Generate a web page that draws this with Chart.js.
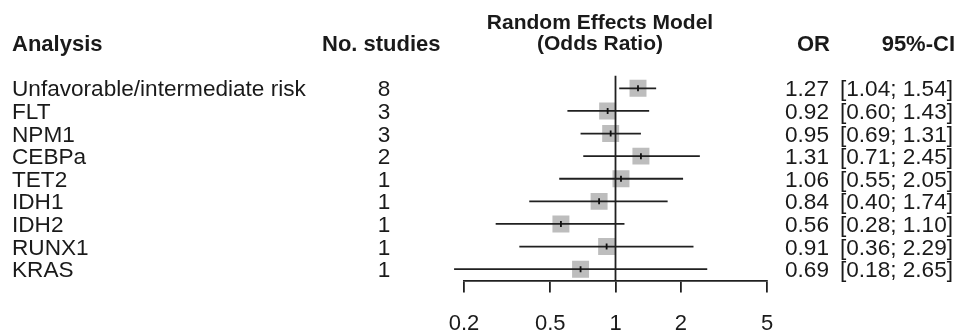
<!DOCTYPE html>
<html>
<head>
<meta charset="utf-8">
<script src="https://cdn.jsdelivr.net/npm/chart.js@4/dist/chart.umd.min.js"></script>
<style>
  body { margin: 0; background: #fff; }
  canvas { display: block; }
</style>
</head>
<body>
<canvas id="forest" width="959" height="333"></canvas>
<script>
// Forest plot data
var analyses = ["Unfavorable/intermediate risk", "FLT", "NPM1", "CEBPa", "TET2", "IDH1", "IDH2", "RUNX1", "KRAS"];
var studies = [8, 3, 3, 2, 1, 1, 1, 1, 1];
var oddsRatio = [1.27, 0.92, 0.95, 1.31, 1.06, 0.84, 0.56, 0.91, 0.69];
var ciLower = [1.04, 0.60, 0.69, 0.71, 0.55, 0.40, 0.28, 0.36, 0.18];
var ciUpper = [1.54, 1.43, 1.31, 2.45, 2.05, 1.74, 1.10, 2.29, 2.65];
var xTicks = [0.2, 0.5, 1, 2, 5];

var FONT = '"Liberation Sans", Arial, Helvetica, sans-serif';
var ink = '#1a1a1a';
var lineCol = '#202020';

var datasets = [];

// center tick inside each square
datasets.push({
    data: oddsRatio.map(function (v, i) { return { x: v, y: i }; }),
    pointStyle: 'line',
    rotation: 90,
    pointRadius: 3,
    borderColor: '#111',
    borderWidth: 1.8,
    order: 0
});

// line of no effect
datasets.push({
    data: [{ x: 1, y: -0.55 }, { x: 1, y: analyses.length - 0.5 }],
    showLine: true,
    pointRadius: 0,
    borderColor: lineCol,
    borderWidth: 1.8,
    clip: false,
    order: 1
});

// confidence intervals
analyses.forEach(function (a, i) {
    datasets.push({
        data: [{ x: ciLower[i], y: i }, { x: ciUpper[i], y: i }],
        showLine: true,
        pointRadius: 0,
        borderColor: lineCol,
        borderWidth: 1.8,
        clip: false,
        order: 2
    });
});

// squares
datasets.push({
    data: oddsRatio.map(function (v, i) { return { x: v, y: i }; }),
    pointStyle: 'rect',
    pointRadius: 12,
    backgroundColor: '#bdbdbd',
    borderWidth: 0,
    order: 3
});

var textColumns = {
    id: 'textColumns',
    afterDraw: function (chart) {
        var ctx = chart.ctx;
        var y = chart.scales.y;
        ctx.save();
        ctx.fillStyle = ink;
        ctx.textBaseline = 'alphabetic';

        // headers
        ctx.font = 'bold 22px ' + FONT;
        ctx.textAlign = 'left';
        ctx.fillText('Analysis', 12, 51);
        ctx.fillText('No. studies', 322, 51);
        ctx.textAlign = 'right';
        ctx.fillText('OR', 830, 51);
        ctx.fillText('95%-CI', 955, 51);
        ctx.font = 'bold 21px ' + FONT;
        ctx.textAlign = 'center';
        ctx.fillText('Random Effects Model', 600, 28.5);
        ctx.fillText('(Odds Ratio)', 600, 50);

        // rows
        ctx.font = '22.6px ' + FONT;
        analyses.forEach(function (a, i) {
            var by = y.getPixelForValue(i) + 8;
            ctx.textAlign = 'left';
            ctx.fillText(a, 12, by);
            ctx.textAlign = 'center';
            ctx.fillText(String(studies[i]), 384, by);
            ctx.textAlign = 'right';
            ctx.fillText(oddsRatio[i].toFixed(2), 829, by);
            ctx.fillText('[' + ciLower[i].toFixed(2) + '; ' + ciUpper[i].toFixed(2) + ']', 953, by);
        });
        ctx.restore();
    }
};

var ctx = document.getElementById('forest').getContext('2d');
var forest = new Chart(ctx, {
    type: 'scatter',
    data: { datasets: datasets },
    options: {
        responsive: false,
        animation: false,
        events: [],
        devicePixelRatio: 1,
        layout: { padding: { left: 464, right: 192, top: 77, bottom: 0 } },
        plugins: { legend: { display: false }, tooltip: { enabled: false } },
        scales: {
            x: {
                type: 'logarithmic',
                min: 0.2,
                max: 5,
                afterBuildTicks: function (scale) {
                    scale.ticks = xTicks.map(function (v) { return { value: v }; });
                },
                afterFit: function (scale) { scale.height = 52.5; },
                grid: {
                    display: true,
                    drawOnChartArea: false,
                    drawTicks: true,
                    tickLength: 12,
                    color: lineCol,
                    lineWidth: 1.8
                },
                border: { display: true, color: lineCol, width: 1.8 },
                ticks: {
                    autoSkip: false,
                    maxRotation: 0,
                    padding: 18,
                    color: ink,
                    font: { family: FONT, size: 22 },
                    callback: function (v) { return String(v); }
                }
            },
            y: {
                type: 'linear',
                reverse: true,
                min: -0.5,
                max: analyses.length - 0.5,
                display: false
            }
        }
    },
    plugins: [textColumns]
});
</script>
</body>
</html>
